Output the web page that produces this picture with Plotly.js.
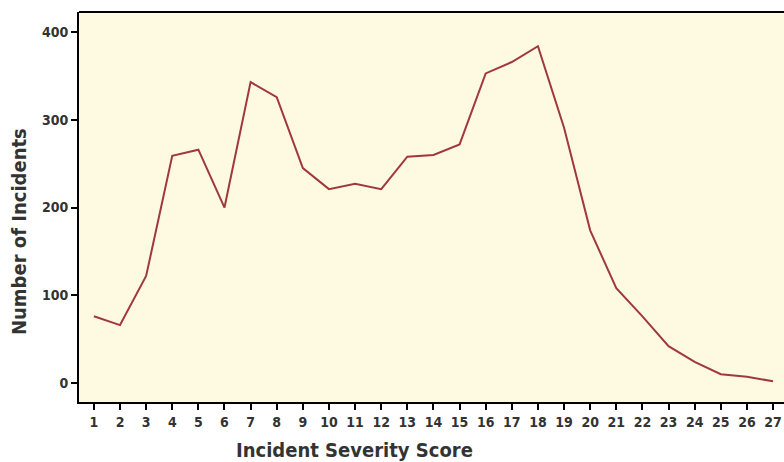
<!DOCTYPE html>
<html><head><meta charset="utf-8">
<script src="https://cdn.plot.ly/plotly-3.0.1.min.js"></script>
<style>html,body{margin:0;padding:0;background:#fff}#chart{width:784px;height:462px}</style>
</head><body><div id="chart"></div>
<script>
const scores = [1,2,3,4,5,6,7,8,9,10,11,12,13,14,15,16,17,18,19,20,21,22,23,24,25,26,27];
const incidents = [76,66,122,259,266,200,343,326,245,221,227,221,258,260,272,353,366,384,291,174,108,76,42,24,10,7,2];
const yTicks = [0,100,200,300,400];
const xTitle = "Incident Severity Score";
const yTitle = "Number of Incidents";
const FONT = '"DejaVu Sans Condensed", sans-serif';

Plotly.newPlot('chart', [{
  x: scores, y: incidents, type: 'scatter', mode: 'lines',
  line: {color: '#A0393E', width: 2}, hoverinfo: 'none'
}], {
  width: 784, height: 462,
  margin: {l: 79, r: 0, t: 12, b: 60},
  paper_bgcolor: '#ffffff', plot_bgcolor: '#FEF9E1',
  showlegend: false,
  font: {family: FONT, color: '#333'},
  xaxis: {
    range: [0.43, 27.42], tickvals: scores, ticktext: scores.map(String),
    showgrid: false, zeroline: false, showline: true, linecolor: '#000', linewidth: 2,
    ticks: 'outside', ticklen: 6, tickwidth: 2, tickcolor: '#000', ticklabeloverflow: 'allow',
    tickfont: {family: FONT, size: 14, color: '#333', weight: 'bold'}
  },
  yaxis: {
    range: [-21.7, 423], tickvals: yTicks,
    showgrid: false, zeroline: false, showline: true, linecolor: '#000', linewidth: 2,
    ticks: 'outside', ticklen: 6, tickwidth: 2, tickcolor: '#000',
    tickfont: {family: FONT, size: 14, color: '#333', weight: 'bold'}
  },
  shapes: [{type: 'line', xref: 'paper', yref: 'paper', x0: 0, x1: 1, y0: 1, y1: 1,
    line: {color: '#000', width: 2}}],
  annotations: [
    {text: xTitle, xref: 'paper', yref: 'paper', x: 0.391, y: -0.123, showarrow: false,
     xanchor: 'center', yanchor: 'middle', font: {family: FONT, size: 20, color: '#333', weight: 'bold'}},
    {text: yTitle, xref: 'paper', yref: 'paper', x: -0.085, y: 0.436, showarrow: false, textangle: -90,
     xanchor: 'center', yanchor: 'middle', font: {family: FONT, size: 20, color: '#333', weight: 'bold'}}
  ]
}, {displayModeBar: false, staticPlot: true});
</script></body></html>
